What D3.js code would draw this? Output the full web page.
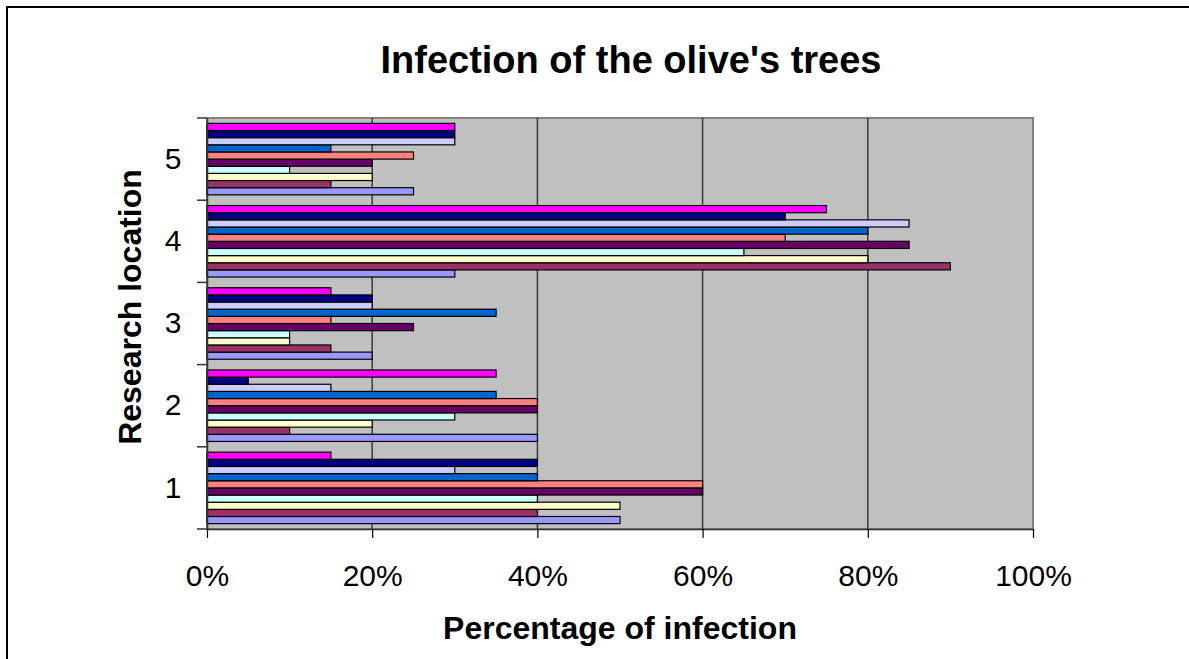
<!DOCTYPE html>
<html>
<head>
<meta charset="utf-8">
<script src="https://cdn.jsdelivr.net/npm/d3@7"></script>
<style>
  html, body { margin: 0; padding: 0; background: #fff; overflow: hidden; }
  svg { display: block; overflow: hidden; font-family: Arial, "Liberation Sans", sans-serif; }
</style>
</head>
<body>
<svg id="chart" width="1189" height="659"></svg>
<script>
// ---- data ----
const categories = ["1", "2", "3", "4", "5"];
const seriesNames = ["Series 1", "Series 2", "Series 3", "Series 4", "Series 5",
                     "Series 6", "Series 7", "Series 8", "Series 9", "Series 10"];
const series1  = [50, 40, 20, 30, 25];
const series2  = [40, 10, 15, 90, 15];
const series3  = [50, 20, 10, 80, 20];
const series4  = [40, 30, 10, 65, 10];
const series5  = [60, 40, 25, 85, 20];
const series6  = [60, 40, 15, 70, 25];
const series7  = [40, 35, 35, 80, 15];
const series8  = [30, 15, 20, 85, 30];
const series9  = [40,  5, 20, 70, 30];
const series10 = [15, 35, 15, 75, 30];
const seriesColors = ["#9999FF", "#993366", "#FFFFCC", "#CCFFFF", "#660066",
                      "#FF8080", "#0066CC", "#CCCCFF", "#000080", "#FF00FF"];
const xTicks = [0, 20, 40, 60, 80, 100];
const title = "Infection of the olive's trees";
const xTitle = "Percentage of infection";
const yTitle = "Research location";

const allSeries = [series1, series2, series3, series4, series5,
                   series6, series7, series8, series9, series10];

// ---- layout ----
const svg = d3.select("#chart");
const plot = { left: 207, right: 1033, top: 118, bottom: 529 };

// outer chart border (only top and left edges are visible)
svg.append("rect")
  .attr("x", 7).attr("y", 7).attr("width", 1400).attr("height", 900)
  .attr("fill", "#fff").attr("stroke", "#000").attr("stroke-width", 2);

const x = d3.scaleLinear().domain([0, 100]).range([plot.left, plot.right]);
const y = d3.scaleBand().domain(categories.slice().reverse())
  .range([plot.top, plot.bottom]).padding(0);
const inner = d3.scaleBand().domain(d3.range(10).reverse())
  .range([0, y.bandwidth()]).paddingInner(0).paddingOuter(0.75);

// plot background
svg.append("rect")
  .attr("x", plot.left).attr("y", plot.top)
  .attr("width", plot.right - plot.left).attr("height", plot.bottom - plot.top)
  .attr("fill", "#C0C0C0").attr("stroke", "#808080").attr("stroke-width", 2);

// gridlines
svg.append("g").selectAll("line")
  .data(xTicks.filter(t => t > 0 && t < 100))
  .join("line")
  .attr("x1", d => x(d)).attr("x2", d => x(d))
  .attr("y1", plot.top).attr("y2", plot.bottom)
  .attr("stroke", "#3a3a3a").attr("stroke-width", 1.5);

// bars
const rows = [];
categories.forEach((c, ci) => {
  allSeries.forEach((s, si) => rows.push({ cat: c, si, v: s[ci] }));
});
svg.append("g").selectAll("rect")
  .data(rows)
  .join("rect")
  .attr("x", x(0))
  .attr("y", d => y(d.cat) + inner(d.si))
  .attr("width", d => x(d.v) - x(0))
  .attr("height", inner.bandwidth())
  .attr("fill", d => seriesColors[d.si])
  .attr("stroke", "#000").attr("stroke-width", 1.2);

// x axis
const xAxis = d3.axisBottom(x).tickValues(xTicks).tickFormat(d => d + "%")
  .tickSize(9).tickSizeOuter(0).tickPadding(27);
const gx = svg.append("g").attr("transform", `translate(0,${plot.bottom})`).call(xAxis);
gx.select(".domain").attr("stroke", "#333").attr("stroke-width", 1.5);
gx.selectAll(".tick line").attr("stroke", "#000").attr("stroke-width", 1.2);
gx.selectAll(".tick text").attr("font-size", 30).attr("fill", "#000")
  .attr("font-family", "Arial, 'Liberation Sans', sans-serif");

// y axis: ticks at category boundaries
const yAxis = d3.axisLeft(y).tickSize(0).tickSizeOuter(0).tickPadding(22);
const gy = svg.append("g").attr("transform", `translate(${plot.left},0)`).call(yAxis);
gy.select(".domain").attr("stroke", "#333").attr("stroke-width", 1.5);
gy.selectAll(".tick text").attr("font-size", 30).attr("fill", "#000")
  .attr("text-anchor", "middle").attr("x", -34)
  .attr("font-family", "Arial, 'Liberation Sans', sans-serif");
const bounds = categories.map(c => y(c)).concat([plot.bottom]);
gy.selectAll("line.bound").data(bounds).join("line").attr("class", "bound")
  .attr("x1", -10).attr("x2", 0)
  .attr("y1", d => d).attr("y2", d => d)
  .attr("stroke", "#333").attr("stroke-width", 1.5);

// titles
svg.append("text").attr("x", 631).attr("y", 73).attr("text-anchor", "middle")
  .attr("font-size", 38).attr("font-weight", "bold").text(title);
svg.append("text").attr("x", 620).attr("y", 639).attr("text-anchor", "middle")
  .attr("font-size", 32).attr("font-weight", "bold").text(xTitle);
svg.append("text").attr("transform", "translate(141,307) rotate(-90)")
  .attr("text-anchor", "middle")
  .attr("font-size", 32).attr("font-weight", "bold").text(yTitle);
</script>
</body>
</html>
